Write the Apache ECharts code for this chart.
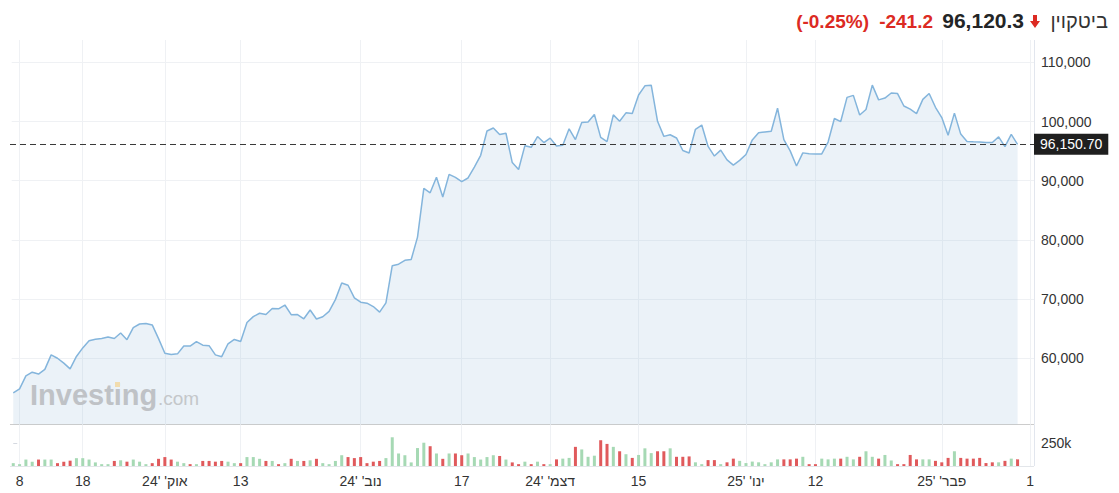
<!DOCTYPE html>
<html><head><meta charset="utf-8">
<script src="https://cdn.jsdelivr.net/npm/echarts@6/dist/echarts.min.js"></script>
<style>html,body{margin:0;padding:0;background:#fff;}#c{width:1119px;height:493px;}</style>
</head><body><div id="c"></div>
<script>
// ---- data ----
const startDate = '2024-09-07';
const prices = [
54160,54840,57020,57650,57340,58130,60570,60010,59180,58210,60310,61760,62950,63200,63350,63580,63340,64270,63140,65180,65790,65890,65640,63330,
60840,60630,60750,62090,62060,62820,62220,62130,60580,60270,62450,63190,62850,66050,67040,67610,67400,68420,68360,69000,67370,67390,66680,68160,66640,67010,67930,69910,72720,72340,70220,
69480,69310,68740,67810,69360,75640,75900,76550,76680,80470,88700,87950,90580,87250,91070,90560,89850,90460,92310,94290,98390,98900,97790,98010,93060,91890,95920,95640,97460,96450,
97190,95860,96000,98770,96950,99830,99920,101170,97320,96600,101120,100040,101460,101370,104480,106030,106140,100040,97490,97760,97220,95100,94690,98680,99400,95790,94160,95160,93530,92640,93430,
94420,96890,98110,98240,98360,102240,96950,95040,92480,94700,94570,94520,94520,96530,100500,99990,104080,104410,101090,102020,106150,103650,103960,104820,104710,102620,102080,101330,103730,104740,102400,
100660,97690,101410,97870,96620,96560,96530,96470,96450,97400,95750,97840,96120
];
const prevClose = 53960;
const volumesK = [
31,20,70,47,70,70,70,31,47,58,
85,85,70,39,20,20,55,62,47,70,
47,20,31,78,97,70,47,31,20,20,
55,55,47,55,47,31,31,97,97,78,
55,55,20,31,78,55,55,62,78,31,
20,55,117,97,86,97,31,47,55,86,
312,136,117,39,195,253,215,136,78,136,
136,117,136,97,70,97,117,109,70,39,
20,47,20,47,20,20,72,80,88,208,
180,100,112,280,240,208,160,128,88,120,
192,140,160,160,192,100,100,104,40,20,
64,64,20,40,80,56,32,48,40,20,
40,72,72,72,80,100,20,20,80,72,
80,80,100,72,100,160,100,80,120,60,
20,20,120,72,72,72,56,40,88,160,
88,80,80,88,32,40,40,56,80,72
];
const lastPrice = 96150.70;
const lastPriceLabel = '96,150.70';
const tickDates = ['2024-09-08','2024-09-18','2024-10-01','2024-10-13','2024-11-01','2024-11-17','2024-12-01','2024-12-15','2025-01-01','2025-01-12','2025-02-01','2025-02-15'];
const tickLabels = ['8','18',"אוק' '24",'13',"נוב' '24",'17',"דצמ' '24",'15',"ינו' '25",'12',"פבר' '25",'1'];
const yTicks = [60000,70000,80000,90000,100000,110000];
const volTicks = [250];
const volTickLabels = ['250k'];
const headerName = 'ביטקוין';
const headerPrice = '96,120.3';
const headerChange = '-241.2';
const headerPct = '(-0.25%)';

// ---- build ----
const DAY = 86400000;
function dayIndex(d){ return Math.round((Date.parse(d+'T00:00:00Z') - Date.parse(startDate+'T00:00:00Z'))/DAY); }
const tickIdx = tickDates.map(dayIndex);
const lineData = prices.map((v,i)=>[i,v]);
const barData = volumesK.map((v,i)=>[i,v]);
const upColor = '#a6d9b4', downColor = '#e05a5c';
const FONT = '"Liberation Sans", Arial, sans-serif';

// axis extents (grid edges at the canvas top/left edge)
const X_MIN = -2.1, X_MAX = 161.6, X_LINE_START = -0.52, X_GRID_START = -0.25;
const Y_MIN = 48851, Y_MAX = 120524, Y_TOP = 113767;
const V_MAX = 453;

const gridStyle = {color:'#eff1f4', type:'solid', width:1};
const noLabel = {show:false};
function seg(a, b, style){ return [{coord:a, lineStyle:style, label:noLabel}, {coord:b, lineStyle:style, label:noLabel}]; }

const mainGridLines = [].concat(
  yTicks.map(v=>seg([X_GRID_START, v],[X_MAX, v], gridStyle)),
  tickIdx.map(v=>seg([v, Y_MIN],[v, Y_TOP], gridStyle)),
  [seg([X_LINE_START, Y_MIN],[X_MAX, Y_MIN], {color:'#cccccc', type:'solid', width:1})],
  [seg([X_MAX, Y_MIN],[X_MAX, Y_TOP], {color:'#e2e6ee', type:'solid', width:1})]
);
const volGridLines = [].concat(
  tickIdx.map(v=>seg([v, 0],[v, V_MAX], gridStyle)),
  [seg([X_LINE_START, 0],[X_MAX, 0], {color:'#e3e6ea', type:'solid', width:1})],
  [seg([X_MAX, 0],[X_MAX, V_MAX], {color:'#e2e6ee', type:'solid', width:1})]
);

const chart = echarts.init(document.getElementById('c'), null, {renderer:'svg'});
const xCommon = {type:'value', min:X_MIN, max:X_MAX, splitLine:{show:false}, axisLine:{show:false}, axisTick:{show:false}};
chart.setOption({
  animation:false,
  textStyle:{fontFamily:FONT},
  grid:[
    {show:false, left:0, right:85, top:0, height:424.3},
    {show:false, left:0, right:85, top:424.3, height:41.7}
  ],
  xAxis:[
    Object.assign({gridIndex:0, axisLabel:{show:false}}, xCommon),
    Object.assign({gridIndex:1,
      axisLabel:{show:true, customValues:tickIdx, margin:8, fontSize:14, color:'#333',
        formatter:(v)=>{const k=tickIdx.indexOf(v); return k>=0?tickLabels[k]:'';}}
    }, xCommon, {axisTick:{show:false, customValues:tickIdx}})
  ],
  yAxis:[
    {gridIndex:0, type:'value', position:'right', min:Y_MIN, max:Y_MAX,
      axisLine:{show:false},
      axisTick:{show:true, customValues:yTicks, length:4, lineStyle:{color:'#d5d9e0'}},
      axisLabel:{customValues:yTicks, margin:7, fontSize:14, color:'#333',
        formatter:(v)=>Number(v).toLocaleString('en-US')},
      splitLine:{show:false}
    },
    {gridIndex:1, type:'value', position:'right', min:0, max:V_MAX,
      axisLine:{show:false},
      axisTick:{show:true, customValues:volTicks, length:4, lineStyle:{color:'#d5d9e0'}},
      axisLabel:{customValues:volTicks, margin:7, fontSize:14, color:'#333',
        formatter:(v)=>{const k=volTicks.indexOf(v); return k>=0?volTickLabels[k]:'';}},
      splitLine:{show:false}
    }
  ],
  graphic:[
    {type:'text', left:30, top:380, z:100, silent:true,
      style:{text:'Investing', font:'bold 29px '+FONT, fill:'#bfc2c6'}},
    {type:'text', left:158, top:389, z:100, silent:true,
      style:{text:'.com', font:'19px '+FONT, fill:'#c4c7ca'}},
    {type:'rect', left:115, top:382, z:101, silent:true, shape:{width:5,height:5}, style:{fill:'#f1dcae'}},
    {type:'text', right:11, top:11, z:100, style:{text:headerName, font:'20px '+FONT, fill:'#333'}},
    {type:'polygon', z:100, silent:true, shape:{points:[[1033,15],[1037,15],[1037,21],[1040,21],[1035,28],[1030,21],[1033,21]]}, style:{fill:'#dc2a23'}},
    {type:'text', right:95, top:10, z:100, style:{text:headerPrice, font:'bold 21px '+FONT, fill:'#232526'}},
    {type:'text', right:186, top:12, z:100, style:{text:headerChange, font:'bold 19px '+FONT, fill:'#dc2a23'}},
    {type:'text', right:250, top:12, z:100, style:{text:headerPct, font:'bold 19px '+FONT, fill:'#dc2a23'}}
  ],
  series:[
    // invisible carrier for the main grid lines
    {type:'line', xAxisIndex:0, yAxisIndex:0, data:lineData, showSymbol:false, silent:true, z:1, clip:false,
      lineStyle:{opacity:0, width:0},
      markLine:{silent:true, symbol:['none','none'], z:1, data:mainGridLines}
    },
    {type:'line', xAxisIndex:0, yAxisIndex:0, data:lineData, showSymbol:false, z:3,
      lineStyle:{color:'#84b5dc', width:1.5},
      areaStyle:{color:'rgba(160,192,220,0.3)', origin:'start'},
      markLine:{silent:true, symbol:['none','none'], z:5,
        data:[{yAxis:lastPrice, x:10,
          lineStyle:{type:[6,4], color:'#3a3a3a', width:1},
          label:{show:true, position:'end', distance:0, formatter:lastPriceLabel,
            backgroundColor:'#1f1f1f', color:'#fff', fontSize:14, padding:[4,6,3,6]}}]
      }
    },
    {type:'bar', xAxisIndex:1, yAxisIndex:1, data:barData, barWidth:3, z:3, clip:false,
      itemStyle:{color:(p)=>{const i=p.dataIndex; const prev=i>0?prices[i-1]:prevClose; return prices[i]>=prev?upColor:downColor;}},
      markLine:{silent:true, symbol:['none','none'], z:1, data:volGridLines}
    }
  ]
});
</script></body></html>
